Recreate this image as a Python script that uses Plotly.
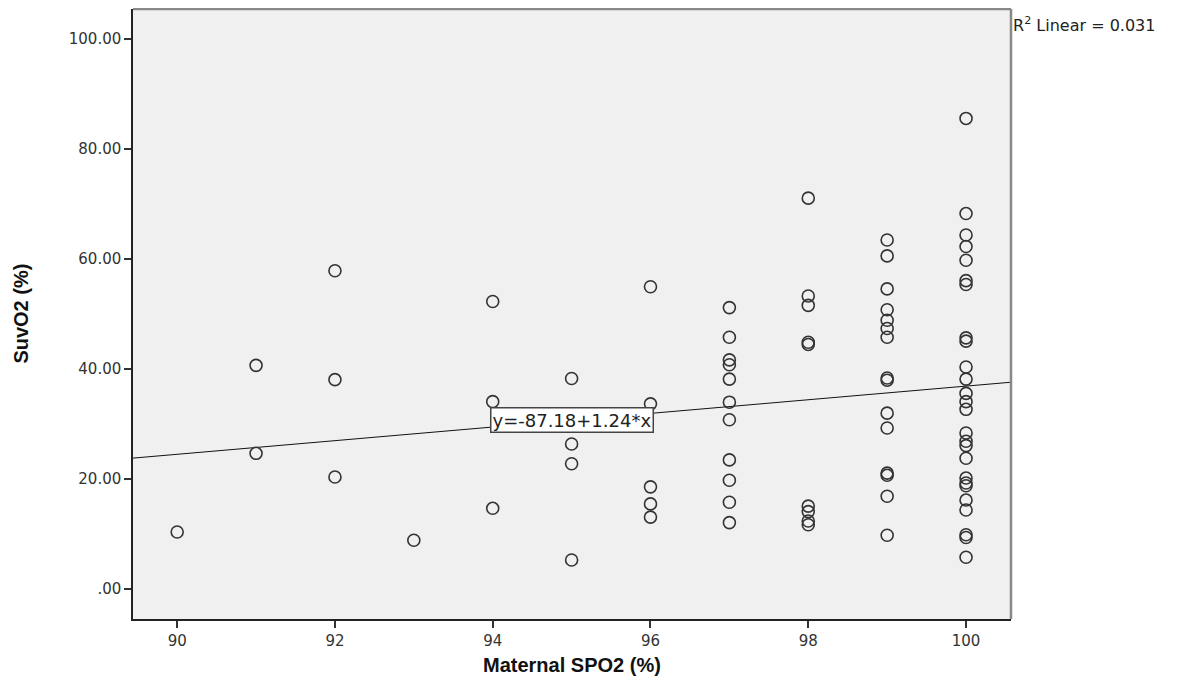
import plotly.graph_objects as go

# Data (Maternal SPO2 (%) vs SuvO2 (%))
spo2_levels = [90, 91, 92, 93, 94, 95, 96, 97, 98, 99, 100]
suvo2_by_level = {
    90: [10.3],
    91: [40.6, 24.6],
    92: [57.8, 38.0, 20.3],
    93: [8.8],
    94: [52.2, 34.0, 14.6],
    95: [38.2, 26.3, 22.7, 5.2],
    96: [54.9, 33.6, 18.5, 15.4, 13.0],
    97: [51.1, 45.7, 41.6, 40.7, 38.1, 33.9, 30.7, 23.4, 19.7, 15.7, 12.0],
    98: [71.0, 53.2, 51.5, 44.8, 44.4, 15.0, 14.0, 12.3, 11.6],
    99: [63.4, 60.5, 54.5, 50.7, 48.8, 47.3, 45.7, 38.3, 37.9, 31.9, 29.2,
         21.0, 20.6, 16.8, 9.7],
    100: [85.5, 68.2, 64.3, 62.2, 59.7, 56.0, 55.3, 45.6, 45.0, 40.3, 38.1,
          35.5, 34.0, 32.6, 28.3, 26.8, 26.0, 23.7, 20.1, 19.2, 18.7, 16.1,
          14.3, 9.8, 9.3, 5.7],
}
intercept = -87.18
slope = 1.24
r2_text = "R<sup>2</sup> Linear = 0.031"
eq_text = "y=-87.18+1.24*x"
x_ticks = [90, 92, 94, 96, 98, 100]
y_ticks = [0, 20, 40, 60, 80, 100]
y_ticktext = [".00", "20.00", "40.00", "60.00", "80.00", "100.00"]

x_range = [89.44, 100.57]
y_range = [-5.53, 105.4]

xs, ys = [], []
for lvl in spo2_levels:
    for v in suvo2_by_level[lvl]:
        xs.append(lvl)
        ys.append(v)

fig = go.Figure()
fig.add_trace(go.Scatter(
    x=x_range, y=[intercept + slope * x for x in x_range],
    mode="lines", line=dict(color="#111111", width=1),
    hoverinfo="skip", showlegend=False,
))
fig.add_trace(go.Scatter(
    x=xs, y=ys, mode="markers",
    marker=dict(symbol="circle-open", size=12, color="#333333",
                line=dict(width=1.6, color="#333333")),
    showlegend=False,
))

eq_x = 95
fig.add_annotation(
    x=eq_x, y=intercept + slope * eq_x, xref="x", yref="y",
    text=eq_text, showarrow=False,
    font=dict(family="DejaVu Sans, Arial, sans-serif", size=18, color="#222222"),
    bgcolor="white", bordercolor="#444444", borderwidth=1.5, borderpad=1,
)
fig.add_annotation(
    x=1.0, y=0.975, xref="paper", yref="paper", xanchor="left", yanchor="middle",
    text=r2_text, showarrow=False,
    font=dict(family="DejaVu Sans, Arial, sans-serif", size=16, color="#222222"),
)
fig.add_annotation(
    x=0.5, y=-0.054, xref="paper", yref="paper", xanchor="center", yanchor="top",
    text="<b>Maternal SPO2 (%)</b>", showarrow=False,
    font=dict(family="Liberation Sans Narrow, Arial Narrow, Liberation Sans, sans-serif",
              size=20, color="#111111"),
)
fig.add_annotation(
    x=-0.128, y=0.5, xref="paper", yref="paper", xanchor="center", yanchor="middle",
    text="<b>SuvO2 (%)</b>", showarrow=False, textangle=-90,
    font=dict(family="Liberation Sans Narrow, Arial Narrow, Liberation Sans, sans-serif",
              size=20, color="#111111"),
)

# top and right frame lines (gray)
fig.add_shape(type="line", xref="paper", yref="paper", x0=0, x1=1, y0=1, y1=1,
              line=dict(color="#888888", width=2.5))
fig.add_shape(type="line", xref="paper", yref="paper", x0=1, x1=1, y0=0, y1=1,
              line=dict(color="#888888", width=2.5))

tickfont = dict(family="DejaVu Sans, Arial, sans-serif", size=15, color="#333333")
fig.update_xaxes(
    range=x_range, tickvals=x_ticks, ticks="outside", ticklen=7, tickwidth=1.5,
    tickcolor="#333333", showline=True, linecolor="#222222", linewidth=1.5,
    showgrid=False, zeroline=False, tickfont=tickfont,
)
fig.update_yaxes(
    range=y_range, tickvals=y_ticks, ticktext=y_ticktext, ticks="outside",
    ticklen=7, tickwidth=1.5, tickcolor="#333333", showline=True,
    linecolor="#222222", linewidth=1.5, showgrid=False, zeroline=False,
    tickfont=tickfont,
)
fig.update_layout(
    width=1172, height=682,
    margin=dict(l=125, r=169, t=1, b=71),
    paper_bgcolor="white", plot_bgcolor="#F0F0F0",
    showlegend=False,
)
fig.write_html("out.html")
